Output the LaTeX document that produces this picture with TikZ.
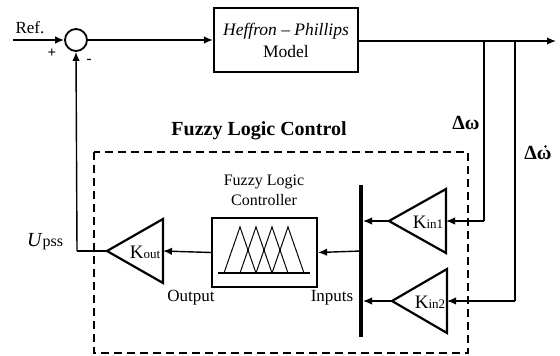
\documentclass[tikz,border=0pt]{standalone}
\usepackage{fontspec}
\setmainfont{Liberation Serif}
\usetikzlibrary{arrows.meta}
\begin{document}
\begin{tikzpicture}[x=1pt,y=-1pt,
  wire/.style={line width=1.4pt},
  arr/.style={wire,-{Latex[length=9pt,width=7.5pt]}},
  blockbox/.style={draw,line width=2.2pt,inner sep=0pt},
  gain/.style={line width=2.2pt,line join=miter},
  lbl/.style={font=\fontsize{17}{18}\selectfont,inner sep=0pt},
  glbl/.style={font=\fontsize{19}{19}\selectfont,inner sep=0pt}]
\useasboundingbox (0,0) rectangle (560,356);

% summing junction
\node[draw,circle,line width=1.8pt,minimum size=22pt,inner sep=0pt] (sum) at (76,40) {};
\coordinate (ref) at (13,40);
\draw[arr] (ref) -- (sum.west);
\node[lbl,anchor=south] (reflbl) at (30,34) {Ref.};
\node[lbl,font=\fontsize{15}{15}\selectfont\bfseries] (plus) at (52,53) {+};
\node[lbl,font=\fontsize{15}{15}\selectfont\bfseries] (minus) at (89,61) {-};

% Heffron-Phillips
\node[blockbox,minimum width=144pt,minimum height=64pt,align=center,
      font=\fontsize{17.5}{22}\selectfont] (hp) at (286,40) {\textit{Heffron -- Phillips}\\Model};
\draw[arr] (sum.east) -- (hp.west);
\coordinate (out) at (556,41);
\draw[arr] (hp.east|-out) -- (out);

% branch points
\coordinate (b1) at (484,41);
\coordinate (b2) at (515,41);

% dashed box
\draw[line width=1.1pt,dash pattern=on 8pt off 5pt] (94,152) rectangle (468,353);
\node[font=\fontsize{20}{20}\selectfont\bfseries] (flctitle) at (259,131) {Fuzzy Logic Control};

% gains
\coordinate (k1tip) at (389,221);
\coordinate (k1base) at (446,221);
\draw[gain] (k1tip) -- (446,189) -- (446,253) -- cycle;
\node[glbl] (k1) at (428,222) {K{\fontsize{13}{13}\selectfont in1}};

\coordinate (k2tip) at (392,301);
\coordinate (k2base) at (447,301);
\draw[gain] (k2tip) -- (447,269) -- (447,333) -- cycle;
\node[glbl] (k2) at (430,302) {K{\fontsize{13}{13}\selectfont in2}};

\coordinate (kotip) at (107,251);
\coordinate (kobase) at (163,251);
\draw[gain] (kotip) -- (163,219) -- (163,283) -- cycle;
\node[glbl] (ko) at (145,252) {K{\fontsize{13}{13}\selectfont out}};

% bar
\coordinate (bartop) at (361,185);
\coordinate (barbot) at (361,337);
\draw[line width=4pt] (bartop) -- (barbot);

% FLC box
\node[blockbox,minimum width=105pt,minimum height=69pt] (flc) at (264.5,252.5) {};
\node[font=\fontsize{16}{20}\selectfont,align=center] (flclbl) at (264,190) {Fuzzy Logic\\Controller};
\draw[line width=1.8pt] (218,273) -- (310,273);
\foreach \p in {240,256,272,288}{
  \draw[line width=1pt] (\p-16,273) -- (\p,227) -- (\p+16,273);
}
\node[lbl] (outlbl) at (191,298) {Output};
\node[lbl] (inlbl) at (332,298) {Inputs};

% connections
\draw[wire] (b1) -- (484,221);
\draw[arr] (484,221) -- (k1base);
\draw[wire] (b2) -- (515,301);
\draw[arr] (515,301) -- (k2base);
\draw[arr] (k1tip) -- (363,221);
\draw[arr] (k2tip) -- (363,301);
\draw[arr] (361,251) -- (flc.east);
\draw[arr] (flc.west) -- (kobase);
\draw[wire] (kotip) -- (77,251);
\draw[arr] (77,251) -- (sum.south);

% signal labels
\node[lbl,font=\fontsize{20}{20}\selectfont\bfseries] (dw) at (466,123) {Δω};
\node[lbl,font=\fontsize{20}{20}\selectfont\bfseries] (dwd) at (538,153) {Δω};
\fill (545.5,146.5) circle (1.4pt);
\node[anchor=base west,inner sep=0pt] (upss) at (27,246) {\fontsize{20}{20}\selectfont\textit{U}\fontsize{16}{16}\selectfont pss};
\end{tikzpicture}
\end{document}
